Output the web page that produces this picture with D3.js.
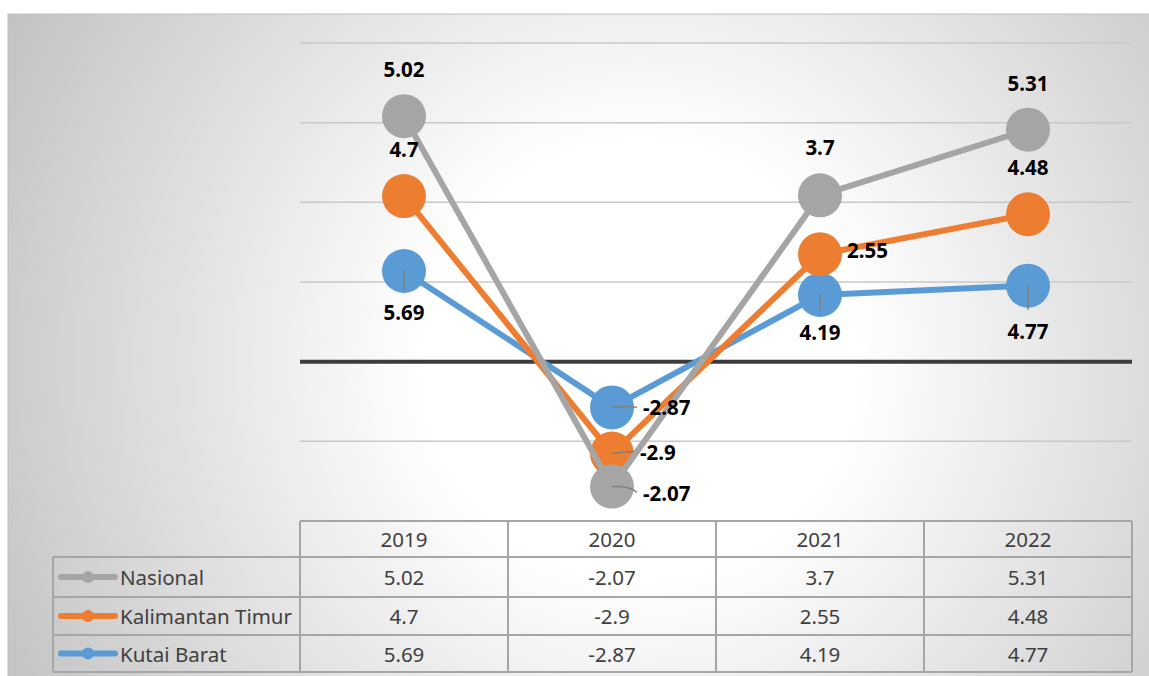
<!DOCTYPE html>
<html>
<head>
<meta charset="utf-8">
<script src="https://cdn.jsdelivr.net/npm/d3@7"></script>
<style>
  html, body { margin: 0; padding: 0; background: #ffffff; }
  svg { display: block; }
</style>
</head>
<body>
<script>
// DATA
const years = ["2019", "2020", "2021", "2022"];
const seriesNames = ["Nasional", "Kalimantan Timur", "Kutai Barat"];
const nasional = [5.02, -2.07, 3.7, 5.31];
const kalimantanTimur = [4.7, -2.9, 2.55, 4.48];
const kutaiBarat = [5.69, -2.87, 4.19, 4.77];
const yTicks = [-10, -5, 0, 5, 10, 15, 20];

// stacked line: first series at bottom
const stackOrder = ["Kutai Barat", "Kalimantan Timur", "Nasional"];
const colors = { "Nasional": "#a5a5a5", "Kalimantan Timur": "#ed7d31", "Kutai Barat": "#5b9bd5" };

// label placement (dx, dy, anchor, leader) per series, per year
const labelPos = {
  "Nasional":         [[0, -47, "middle", 0], [31, 6, "start", 1], [0, -48, "middle", 0], [0, -47, "middle", 0]],
  "Kalimantan Timur": [[0, -47, "middle", 0], [28, -2, "start", 1], [27, -4, "start", 0], [0, -47, "middle", 0]],
  "Kutai Barat":      [[0, 41, "middle", 1], [31, 0, "start", 1], [0, 37, "middle", 1], [0, 45, "middle", 1]]
};

const W = 1149, H = 676;
const plot = { left: 300, right: 1132, top: 43, bottom: 521 };
const tableRows = [521, 557, 597, 635, 672];
const legendLeft = 53;

const svg = d3.select("body").append("svg").attr("width", W).attr("height", H);

// BACKGROUND GRADIENT
const defs = svg.append("defs");
const grad = defs.append("radialGradient").attr("id", "bg")
  .attr("gradientUnits", "userSpaceOnUse")
  .attr("cx", 640).attr("cy", 360).attr("r", 720);
grad.append("stop").attr("offset", "0").attr("stop-color", "#ffffff");
grad.append("stop").attr("offset", "0.3").attr("stop-color", "#ffffff");
grad.append("stop").attr("offset", "1").attr("stop-color", "#c2c2c2");

svg.append("rect").attr("x", 8).attr("y", 14).attr("width", W + 10).attr("height", H + 10)
  .attr("fill", "url(#bg)").attr("stroke", "#bfbfbf").attr("stroke-width", 1);

// SCALES
const x = d3.scaleBand().domain(years).range([plot.left, plot.right]);
const y = d3.scaleLinear().domain([-10, 20]).range([plot.bottom, plot.top]);
const cx = d => x(d) + x.bandwidth() / 2;

// GRIDLINES
svg.append("g").selectAll("line").data(yTicks.filter(t => t !== 0 && t !== -10)).join("line")
  .attr("x1", plot.left).attr("x2", plot.right)
  .attr("y1", d => y(d)).attr("y2", d => y(d))
  .attr("stroke", "#c8c8c8").attr("stroke-width", 1.5);

svg.append("line")
  .attr("x1", plot.left).attr("x2", plot.right)
  .attr("y1", y(0)).attr("y2", y(0))
  .attr("stroke", "#3c3c3c").attr("stroke-width", 4);

// STACK
const rows = years.map((yr, i) => ({
  year: yr,
  "Nasional": nasional[i],
  "Kalimantan Timur": kalimantanTimur[i],
  "Kutai Barat": kutaiBarat[i]
}));
const stacked = d3.stack().keys(stackOrder).offset(d3.stackOffsetNone)(rows);

const line = d3.line().x(d => cx(d.data.year)).y(d => y(d[1]));

stacked.forEach(s => {
  const g = svg.append("g");
  g.append("path").datum(s).attr("d", line)
    .attr("fill", "none").attr("stroke", colors[s.key]).attr("stroke-width", 6)
    .attr("stroke-linejoin", "round");
  g.selectAll("circle").data(s).join("circle")
    .attr("cx", d => cx(d.data.year)).attr("cy", d => y(d[1])).attr("r", 22)
    .attr("fill", colors[s.key]);
});

// DATA LABELS
stacked.forEach(s => {
  const g = svg.append("g");
  s.forEach((d, i) => {
    const [dx, dy, anchor, leader] = labelPos[s.key][i];
    const px = cx(d.data.year), py = y(d[1]);
    if (leader) {
      let path;
      if (anchor === "start") {
        path = `M${px},${py} Q${px + dx * 0.6},${py + dy * 0.2 - 2} ${px + dx - 6},${py + dy}`;
      } else {
        path = `M${px},${py} L${px},${py + dy - 21}`;
      }
      g.append("path").attr("d", path).attr("fill", "none")
        .attr("stroke", "#7f7f7f").attr("stroke-width", 1.5);
    }
    g.append("text")
      .attr("x", px + dx).attr("y", py + dy)
      .attr("text-anchor", anchor).attr("dominant-baseline", "central")
      .attr("font-family", "'Noto Sans', 'Open Sans', sans-serif")
      .attr("font-size", 20.5).attr("font-weight", "bold").attr("fill", "#000")
      .text(d.data[s.key]);
  });
});

// DATA TABLE
const tg = svg.append("g").attr("fill", "none").attr("stroke", "#a6a6a6").attr("stroke-width", 2);
// header row
tg.append("line").attr("x1", plot.left).attr("x2", plot.right).attr("y1", tableRows[0]).attr("y2", tableRows[0]);
// series rows
for (let r = 1; r < tableRows.length; r++) {
  tg.append("line").attr("x1", legendLeft).attr("x2", plot.right).attr("y1", tableRows[r]).attr("y2", tableRows[r]);
}
// verticals
const vx = years.map(yr => x(yr)).concat([plot.right]);
vx.forEach(v => tg.append("line").attr("x1", v).attr("x2", v).attr("y1", tableRows[0]).attr("y2", tableRows[4]));
tg.append("line").attr("x1", legendLeft).attr("x2", legendLeft).attr("y1", tableRows[1]).attr("y2", tableRows[4]);

const textStyle = sel => sel
  .attr("font-family", "'Noto Sans', 'Open Sans', sans-serif")
  .attr("font-size", 20.5).attr("fill", "#404040")
  .attr("dominant-baseline", "central");

svg.append("g").selectAll("text").data(years).join("text")
  .attr("x", d => cx(d)).attr("y", (tableRows[0] + tableRows[1]) / 2)
  .attr("text-anchor", "middle").call(textStyle).text(d => d);

const seriesValues = [nasional, kalimantanTimur, kutaiBarat];
seriesNames.forEach((name, r) => {
  const mid = (tableRows[r + 1] + tableRows[r + 2]) / 2;
  const g = svg.append("g");
  g.append("line").attr("x1", 61).attr("x2", 115).attr("y1", mid).attr("y2", mid)
    .attr("stroke", colors[name]).attr("stroke-width", 6).attr("stroke-linecap", "round");
  g.append("circle").attr("cx", 88).attr("cy", mid).attr("r", 6).attr("fill", colors[name]);
  g.append("text").attr("x", 120).attr("y", mid).call(textStyle).text(name);
  g.selectAll("text.v").data(seriesValues[r]).join("text").attr("class", "v")
    .attr("x", (d, i) => cx(years[i])).attr("y", mid)
    .attr("text-anchor", "middle").call(textStyle).text(d => d);
});
</script>
</body>
</html>
